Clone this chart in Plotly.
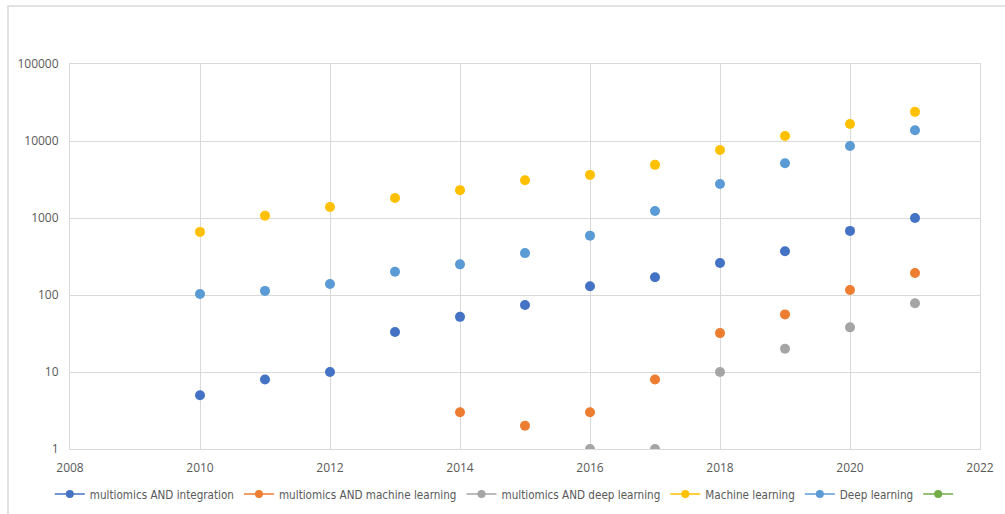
import plotly.graph_objects as go

years = [2010, 2011, 2012, 2013, 2014, 2015, 2016, 2017, 2018, 2019, 2020, 2021]

series_names = [
    "multiomics AND integration",
    "multiomics AND machine learning",
    "multiomics AND deep learning",
    "Machine learning",
    "Deep learning",
    "",
]

multi_integration = [5, 8, 10, 33, 52, 74, 130, 170, 260, 370, 680, 1000]
multi_ml = [None, None, None, None, 3, 2, 3, 8, 32, 56, 116, 193]
multi_dl = [None, None, None, None, None, None, 1, 1, 10, 20, 38, 78]
machine_learning = [660, 1070, 1390, 1820, 2300, 3100, 3630, 4900, 7650, 11600, 16600, 23900]
deep_learning = [103, 113, 139, 200, 250, 350, 590, 1230, 2760, 5150, 8600, 13800]
empty_series = []

colors = ["#4472C4", "#ED7D31", "#A5A5A5", "#FFC000", "#5B9BD5", "#70AD47"]
all_values = [multi_integration, multi_ml, multi_dl, machine_learning, deep_learning, empty_series]

y_ticks = [1, 10, 100, 1000, 10000, 100000]
x_ticks = [2008, 2010, 2012, 2014, 2016, 2018, 2020, 2022]

fig = go.Figure()

for name, vals, col in zip(series_names, all_values, colors):
    if vals:
        fig.add_trace(go.Scatter(
            x=years, y=vals, mode="markers", name=name, showlegend=False,
            marker=dict(size=10, color=col, line=dict(width=0)),
        ))
    fig.add_trace(go.Scatter(
        x=[None], y=[None], mode="lines+markers", name=name,
        line=dict(color=col, width=1.5),
        marker=dict(size=8, color=col),
    ))

fig.update_layout(
    width=1005, height=514,
    margin=dict(l=70, r=25, t=64, b=65, autoexpand=False),
    paper_bgcolor="white", plot_bgcolor="white",
    font=dict(family="Open Sans, Lato, sans-serif", size=12, color="#595959"),
    showlegend=True,
    legend=dict(orientation="h", x=0.48, xanchor="center", y=-0.117, yanchor="middle",
                font=dict(family="DejaVu Sans Condensed, Roboto, sans-serif", size=11.6, color="#595959"),
                itemwidth=30, tracegroupgap=0),
    xaxis=dict(range=[2008, 2022], tickvals=x_ticks, ticktext=[str(t) for t in x_ticks],
               showgrid=True, gridcolor="#D9D9D9", gridwidth=1,
               zeroline=False, showline=True, linecolor="#D9D9D9", mirror=True,
               ticks="", ticklen=0, ticklabelstandoff=8),
    yaxis=dict(type="log", range=[0, 5], tickvals=y_ticks, ticktext=[str(t) for t in y_ticks],
               showgrid=True, gridcolor="#D9D9D9", gridwidth=1,
               zeroline=False, showline=True, linecolor="#D9D9D9", mirror=True,
               ticks="", ticklen=0, ticklabelstandoff=8),
    shapes=[dict(type="rect", xref="paper", yref="paper",
                 x0=-62/910, x1=1.1, y0=-0.3, y1=1 + 58/385,
                 line=dict(color="#D9D9D9", width=1.5), fillcolor="rgba(0,0,0,0)", layer="below")],
)

fig.write_html("out.html")
